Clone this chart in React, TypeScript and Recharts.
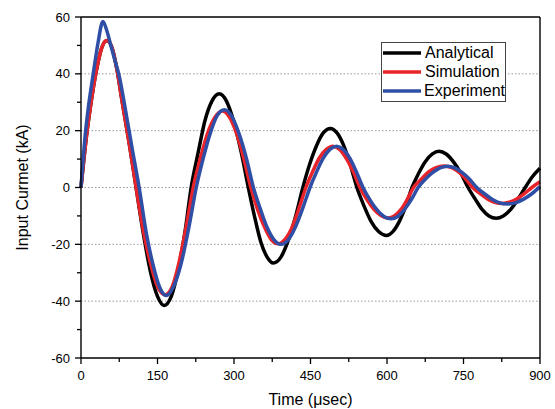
import { LineChart, Line, XAxis, YAxis, Legend, ReferenceLine, Label } from 'recharts'

// values (time in µs, current in kA)
const analyticalT = [0, 10, 19, 30, 40, 51, 62, 71, 80, 95, 108, 122, 136, 150, 163, 177, 190, 204, 216, 230, 243, 257, 271, 285, 299, 314, 328, 340, 352, 365, 377, 392, 406, 421, 435, 448, 462, 475, 489, 502, 515, 528, 541, 555, 569, 584, 599, 611, 624, 637, 649, 662, 675, 689, 702, 716, 730, 745, 759, 773, 786, 800, 814, 828, 843, 857, 871, 885, 900]
const analyticalV = [0, 17, 29, 41, 48.8, 51.7, 48.5, 41, 31, 15, 0, -16, -29.5, -38.3, -41.5, -38.3, -29.5, -15.5, 0, 12.5, 23.5, 30.5, 33, 30.5, 23.5, 12.5, 0, -10, -18.8, -24.5, -26.6, -24.5, -18.8, -10, 0, 8, 14.8, 19.2, 20.8, 19.2, 14.8, 8, 0, -6.5, -12, -15.6, -16.9, -15.6, -12, -6.5, 0, 5, 9.1, 11.8, 12.8, 11.8, 9.1, 5, 0, -4.1, -7.6, -10, -10.8, -10, -7.6, -4.1, 0, 3.8, 6.8]

const simulationT = [0, 10, 19, 30, 40, 51, 62, 71, 80, 95, 108, 122, 136, 150, 165, 179, 192, 206, 220, 234, 248, 263, 277, 291, 305, 319, 333, 346, 360, 373, 387, 400, 414, 427, 441, 454, 467, 481, 494, 507, 520, 534, 547, 560, 574, 588, 602, 615, 628, 640, 652, 667, 681, 696, 712, 727, 741, 755, 768, 782, 797, 811, 826, 840, 855, 870, 884, 900]
const simulationV = [0, 17, 29, 41, 48.8, 51.7, 48.5, 41, 31, 15, 0, -15, -26.5, -34.8, -37.7, -34.8, -26.5, -14, 0, 10.3, 19, 24.8, 26.9, 24.8, 19, 10.3, 0, -7.6, -14, -18.3, -19.8, -18.3, -14, -7.6, 0, 5.5, 10.3, 13.4, 14.5, 13.4, 10.3, 5.5, 0, -4.1, -7.6, -9.9, -10.7, -9.9, -7.6, -4.1, 0, 2.9, 5.4, 7, 7.6, 7, 5.4, 2.9, 0, -2.1, -4, -5.2, -5.6, -5.2, -4, -2.1, 0, 2]

const experimentT = [0, 8, 15, 24, 33, 43, 51, 59, 66, 74, 88, 101, 114, 128, 141, 154, 167, 181, 196, 211, 226, 240, 254, 267, 281, 295, 309, 324, 338, 352, 365, 379, 392, 406, 420, 434, 449, 462, 475, 488, 501, 514, 527, 540, 553, 566, 580, 594, 608, 621, 634, 648, 661, 675, 690, 704, 719, 733, 747, 762, 776, 791, 806, 821, 836, 852, 868, 884, 900]
const experimentV = [0, 18, 29, 40, 50.5, 58.4, 55, 49.6, 45, 40, 26.5, 13, 0, -16, -27, -35, -38, -35, -27, -14.5, 0, 10.5, 19.4, 25.3, 27.4, 25.3, 19.4, 10.5, 0, -7.7, -14.1, -18.5, -20, -18.5, -14.1, -7.7, 0, 5.5, 10.3, 13.4, 14.5, 13.4, 10.3, 5.5, 0, -4.2, -7.8, -10.2, -11, -10.2, -7.8, -4.2, 0, 2.9, 5.3, 6.9, 7.5, 6.9, 5.3, 2.9, 0, -2.2, -4.1, -5.4, -5.8, -5.4, -4.1, -2.2, 0.3]

const xTicks = [0, 75, 150, 225, 300, 375, 450, 525, 600, 675, 750, 825, 900]
const yTicks = [-60, -50, -40, -30, -20, -10, 0, 10, 20, 30, 40, 50, 60]
const gridValues = [-40, -20, 0, 20, 40]

const toData = (ts: number[], vs: number[]) => ts.map((t, i) => ({ t, v: vs[i] }))

const series = [
  { name: 'Analytical', color: '#000000', data: toData(analyticalT, analyticalV) },
  { name: 'Simulation', color: '#e8232a', data: toData(simulationT, simulationV) },
  { name: 'Experiment', color: '#2f4fa6', data: toData(experimentT, experimentV) },
]

const FONT = '"Liberation Sans", Arial, sans-serif'

const LeftTick = ({ x, y, payload }: any) => {
  const major = payload.value % 20 === 0
  return (
    <g>
      <line x1={x - (major ? 6 : 4)} x2={x} y1={y} y2={y} stroke="#000" strokeWidth={1.3} />
      {major && (
        <text x={x - 11} y={y} dy={4.5} textAnchor="end" fontSize={13} fontFamily={FONT} fill="#000">
          {payload.value}
        </text>
      )}
    </g>
  )
}

const BottomTick = ({ x, y, payload }: any) => {
  const major = payload.value % 150 === 0
  return (
    <g>
      <line x1={x} x2={x} y1={y} y2={y + (major ? 6 : 4)} stroke="#000" strokeWidth={1.3} />
      {major && (
        <text x={x} y={y + 21.5} textAnchor="middle" fontSize={13} fontFamily={FONT} fill="#000">
          {payload.value}
        </text>
      )}
    </g>
  )
}

const TopTick = ({ x, y }: any) => (
  <line x1={x} x2={x} y1={y} y2={y - 3} stroke="#000" strokeWidth={1.3} />
)

const RightTick = ({ x, y }: any) => (
  <line x1={x - 4} x2={x} y1={y} y2={y} stroke="#000" strokeWidth={1.3} />
)

const renderLegend = () => (
  <div
    style={{
      border: '1px solid #444',
      background: '#fff',
      width: 123,
      fontFamily: FONT,
      fontSize: 16,
      color: '#000',
    }}
  >
    {series.map(s => (
      <div key={s.name} style={{ display: 'flex', alignItems: 'center', height: 19.3 }}>
        <svg width={40} height={6} style={{ marginLeft: 1 }}>
          <line x1={0} x2={38} y1={3} y2={3} stroke={s.color} strokeWidth={3.5} />
        </svg>
        <span style={{ marginLeft: 2 }}>{s.name}</span>
      </div>
    ))}
  </div>
)

export default function App() {
  return (
    <div style={{ position: 'absolute', left: 0, top: 0 }}>
      <LineChart width={555} height={409} margin={{ top: 0, right: 0, bottom: 0, left: 0 }}>
        <XAxis
          xAxisId="b"
          dataKey="t"
          type="number"
          domain={[0, 900]}
          ticks={xTicks}
          interval={0}
          height={51}
          tickSize={0}
          tickMargin={0}
          tickLine={false}
          tick={<BottomTick />}
          axisLine={{ stroke: '#000', strokeWidth: 1.4 }}
        >
          <Label
            content={({ viewBox }: any) => (
              <text
                x={viewBox.x + viewBox.width / 2}
                y={viewBox.y + 47}
                textAnchor="middle"
                fontSize={16}
                fontFamily={FONT}
                fill="#000"
              >
                Time (μsec)
              </text>
            )}
          />
        </XAxis>
        <XAxis
          xAxisId="top"
          orientation="top"
          dataKey="t"
          type="number"
          domain={[0, 900]}
          ticks={xTicks}
          interval={0}
          height={17}
          tickSize={0}
          tickMargin={0}
          tickLine={false}
          tick={<TopTick />}
          axisLine={{ stroke: '#000', strokeWidth: 1.4 }}
        />
        <YAxis
          yAxisId="l"
          type="number"
          domain={[-60, 60]}
          ticks={yTicks}
          interval={0}
          width={81}
          tickSize={0}
          tickMargin={0}
          tickLine={false}
          tick={<LeftTick />}
          axisLine={{ stroke: '#000', strokeWidth: 1.4 }}
        >
          <Label
            content={({ viewBox }: any) => {
              const cx = 22
              const cy = viewBox.y + viewBox.height / 2
              return (
                <text
                  x={cx}
                  y={cy}
                  transform={`rotate(-90 ${cx} ${cy})`}
                  textAnchor="middle"
                  dy={5.5}
                  fontSize={16}
                  fontFamily={FONT}
                  fill="#000"
                >
                  Input Curmet (kA)
                </text>
              )
            }}
          />
        </YAxis>
        <YAxis
          yAxisId="r"
          orientation="right"
          type="number"
          domain={[-60, 60]}
          ticks={yTicks}
          interval={0}
          width={15}
          tickSize={0}
          tickMargin={0}
          tickLine={false}
          tick={<RightTick />}
          axisLine={{ stroke: '#000', strokeWidth: 1.4 }}
        />
        {gridValues.map(v => (
          <ReferenceLine
            key={v}
            y={v}
            xAxisId="b"
            yAxisId="l"
            stroke="#999"
            strokeWidth={1}
            strokeDasharray="1.5 2"
          />
        ))}
        {series.map(s => (
          <Line
            key={s.name}
            xAxisId="b"
            yAxisId="l"
            data={s.data}
            dataKey="v"
            name={s.name}
            type="monotone"
            stroke={s.color}
            strokeWidth={3.5}
            dot={false}
            isAnimationActive={false}
          />
        ))}
        <Legend
          layout="vertical"
          align="center"
          verticalAlign="middle"
          content={renderLegend}
          wrapperStyle={{ left: 381, top: 42, width: 125, right: 'auto', bottom: 'auto' }}
        />
      </LineChart>
    </div>
  )
}
